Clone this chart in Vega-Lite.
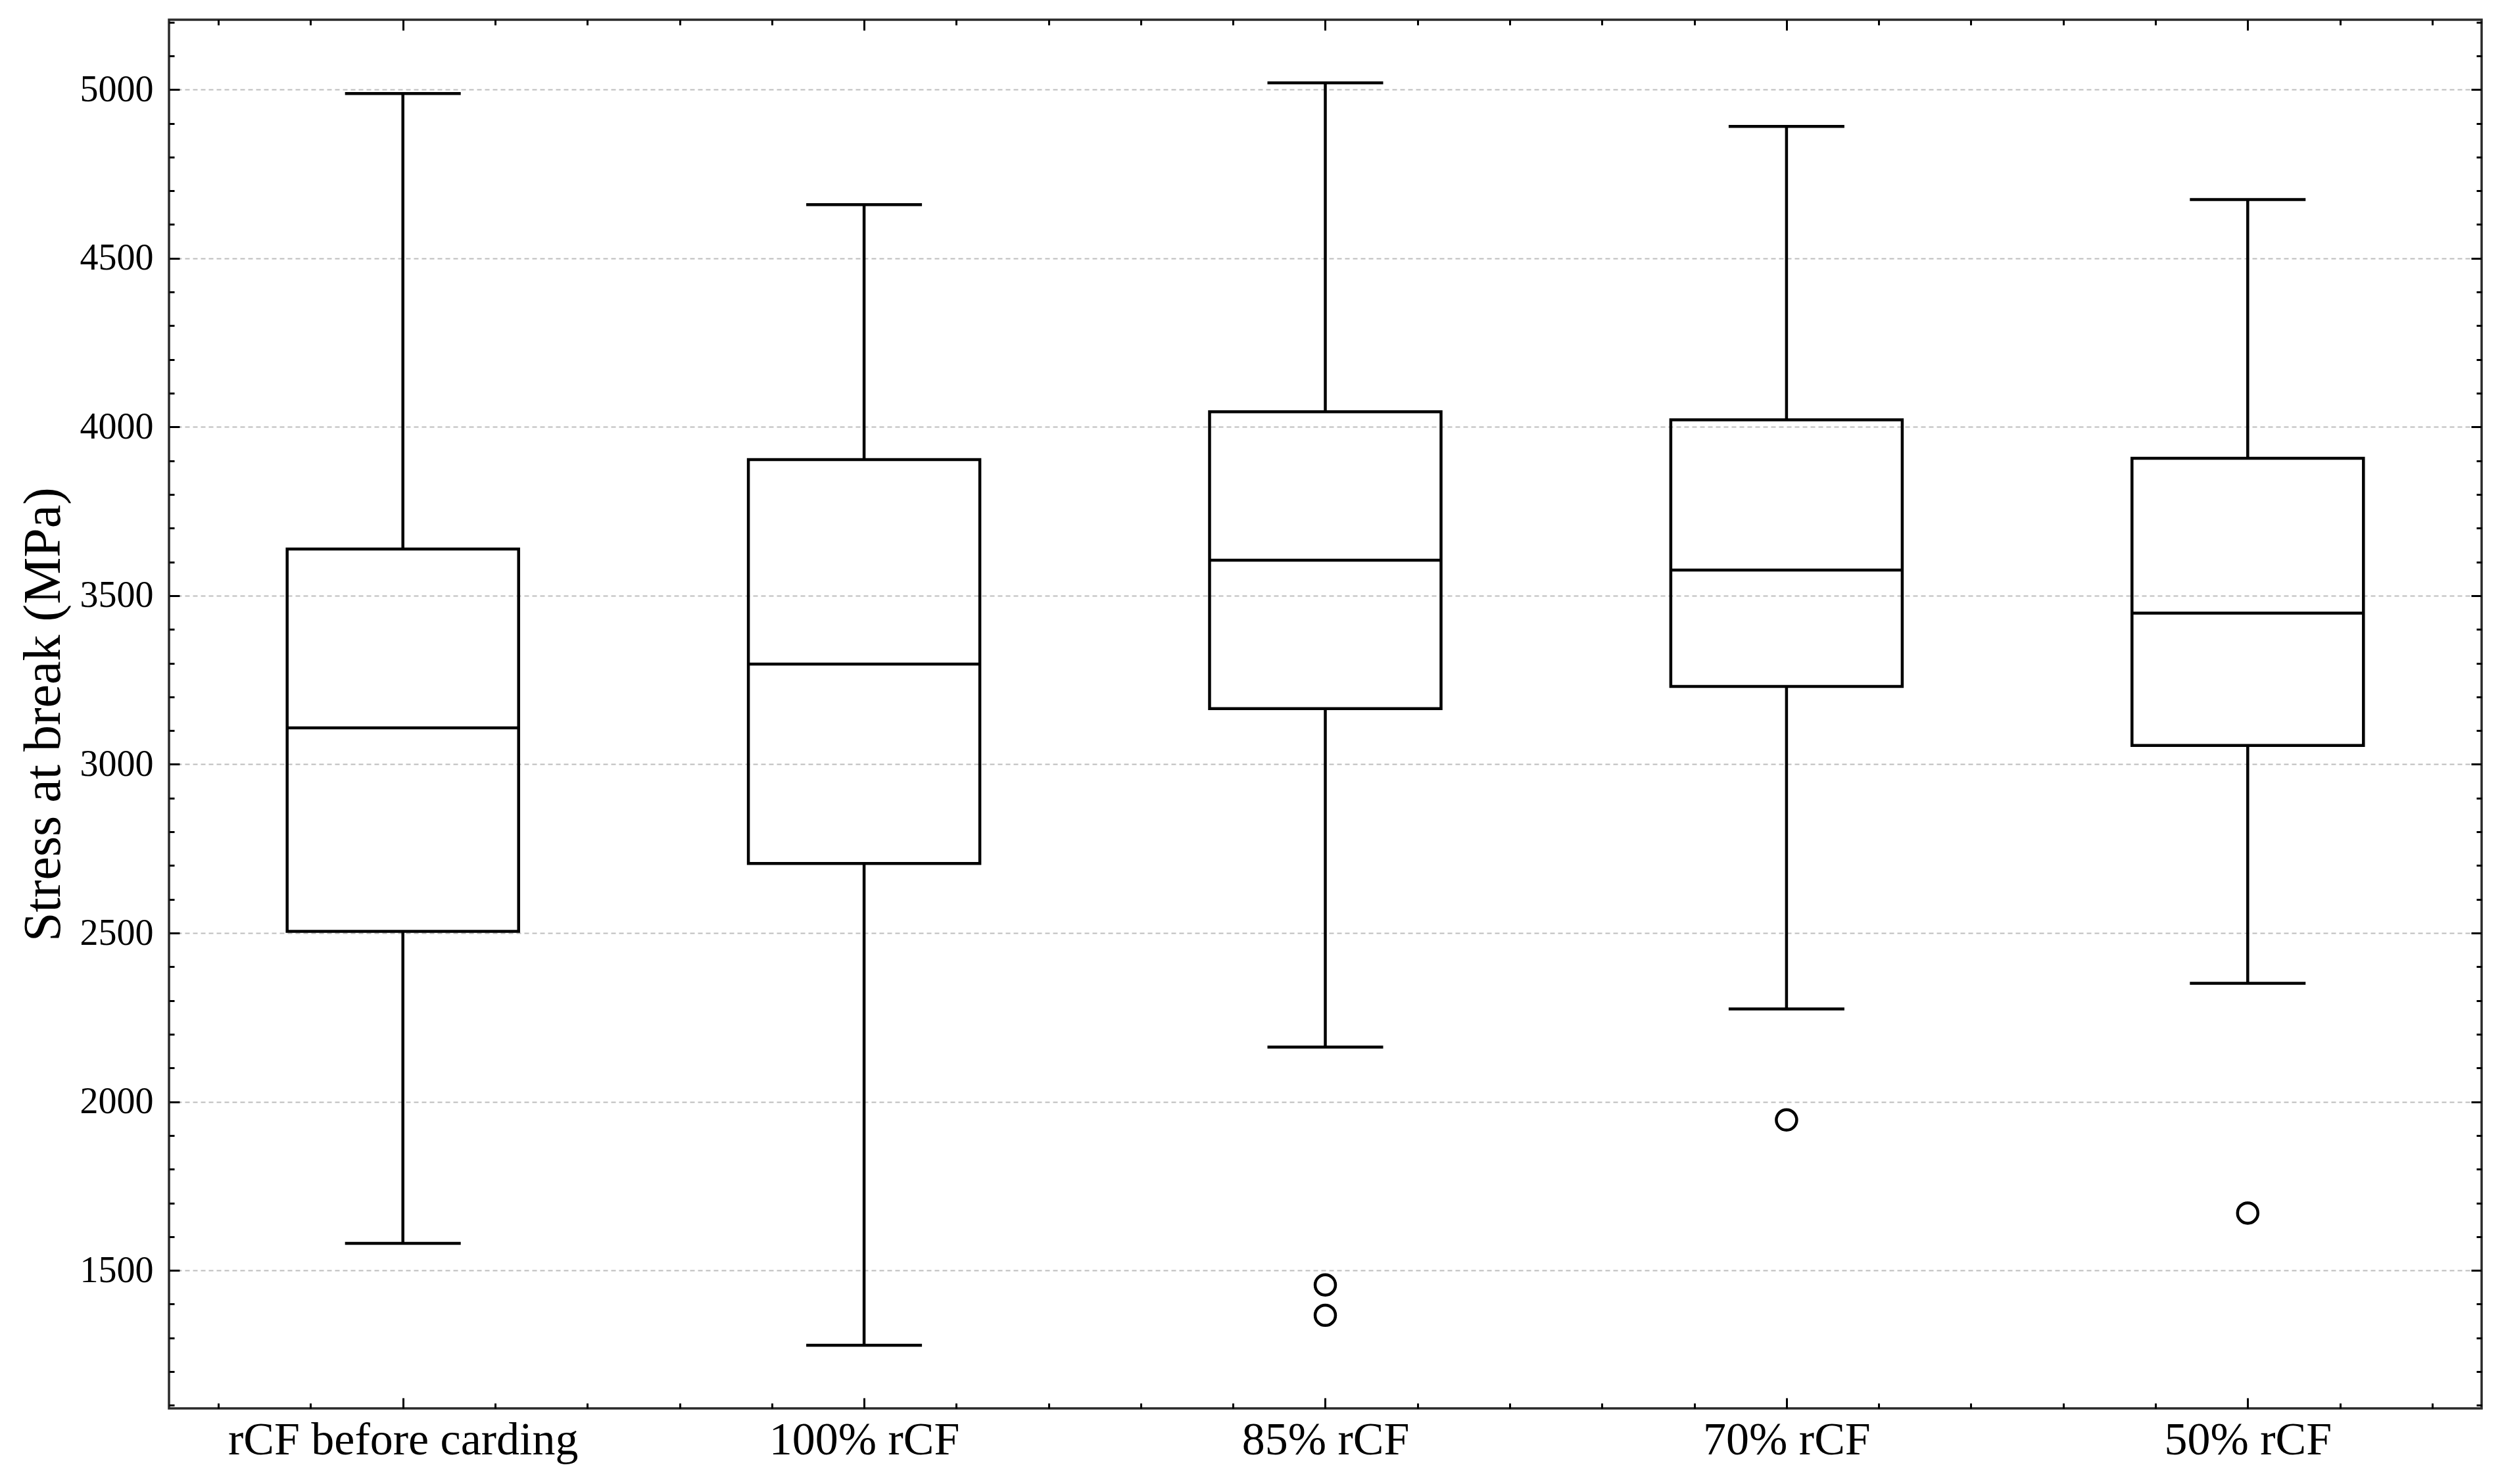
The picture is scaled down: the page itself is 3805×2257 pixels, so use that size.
{
  "$schema": "https://vega.github.io/schema/vega-lite/v6.json",
  "width": 3517,
  "height": 2112,
  "autosize": {"type": "none"},
  "padding": {"left": 257, "top": 30, "right": 31, "bottom": 115},
  "background": "white",
  "config": {
    "view": {"stroke": "#2a2a2a", "strokeWidth": 3.5},
    "axis": {"domain": false, "grid": false, "tickColor": "black", "tickWidth": 3, "labelColor": "black", "titleColor": "black", "labelFont": "Liberation Serif", "titleFont": "Liberation Serif", "titleFontWeight": "normal", "labelLimit": 0}
  },
  "datasets": {
    "stats": [
      {"group": "rCF before carding", "lower": 1580, "q1": 2505, "median": 3108, "q3": 3638, "upper": 4988},
      {"group": "100% rCF", "lower": 1278, "q1": 2706, "median": 3297, "q3": 3903, "upper": 4659},
      {"group": "85% rCF", "lower": 2162, "q1": 3165, "median": 3605, "q3": 4045, "upper": 5020},
      {"group": "70% rCF", "lower": 2275, "q1": 3231, "median": 3576, "q3": 4021, "upper": 4891},
      {"group": "50% rCF", "lower": 2351, "q1": 3056, "median": 3448, "q3": 3907, "upper": 4674}
    ],
    "outliers": [
      {"group": "85% rCF", "value": 1457},
      {"group": "85% rCF", "value": 1367},
      {"group": "70% rCF", "value": 1946},
      {"group": "50% rCF", "value": 1670}
    ]
  },
  "data": {"name": "stats"},
  "transform": [
    {"calculate": "indexof(['rCF before carding','100% rCF','85% rCF','70% rCF','50% rCF'], datum.group) + 1", "as": "pos"}
  ],
  "resolve": {"axis": {"x": "independent", "y": "independent"}},
  "layer": [
    {
      "mark": {"type": "rule", "color": "black", "strokeWidth": 4.5},
      "encoding": {
        "x": {"field": "pos", "type": "quantitative", "scale": {"domain": [0.5, 5.5], "nice": false, "zero": false},
              "axis": {"orient": "bottom", "values": [1, 2, 3, 4, 5], "ticks": false, "labelPadding": 14, "labelFontSize": 70, "labelLimit": 0, "labelExpr": "['rCF before carding','100% rCF','85% rCF','70% rCF','50% rCF'][datum.value - 1]", "title": null}},
        "y": {"field": "lower", "type": "quantitative", "scale": {"domain": [1091, 5207], "nice": false, "zero": false},
              "axis": {"orient": "left", "values": [1500, 2000, 2500, 3000, 3500, 4000, 4500, 5000], "format": "d", "ticks": false, "labelPadding": 24, "labelFontSize": 56, "grid": true, "gridColor": "#bdbdbd", "gridWidth": 2, "gridDash": [7, 5], "title": "Stress at break (MPa)", "titleFontSize": 80, "titlePadding": 14}},
        "y2": {"field": "q1"}
      }
    },
    {
      "mark": {"type": "rule", "color": "black", "strokeWidth": 4.5},
      "encoding": {
        "x": {"field": "pos", "type": "quantitative",
              "axis": {"orient": "top", "offset": -2112, "values": [1, 2, 3, 4, 5], "tickSize": 16, "labels": false, "title": null}},
        "y": {"field": "q3", "type": "quantitative",
              "axis": {"orient": "right", "offset": -3517, "values": [1500, 2000, 2500, 3000, 3500, 4000, 4500, 5000], "tickSize": 16, "labels": false, "title": null}},
        "y2": {"field": "upper"}
      }
    },
    {
      "mark": {"type": "bar", "size": 352, "fill": "transparent", "stroke": "black", "strokeWidth": 4.5},
      "encoding": {
        "x": {"field": "pos", "type": "quantitative",
              "axis": {"orient": "bottom", "offset": -2112, "values": [1, 2, 3, 4, 5], "tickSize": 16, "labels": false, "title": null}},
        "y": {"field": "q1", "type": "quantitative",
              "axis": {"orient": "left", "offset": -3517, "values": [1500, 2000, 2500, 3000, 3500, 4000, 4500, 5000], "tickSize": 16, "labels": false, "title": null}},
        "y2": {"field": "q3"}
      }
    },
    {
      "mark": {"type": "tick", "orient": "horizontal", "size": 352, "thickness": 4.5, "color": "black", "opacity": 1},
      "encoding": {
        "x": {"field": "pos", "type": "quantitative",
              "axis": {"orient": "top", "offset": -2112, "values": [0.6, 0.8, 1.2, 1.4, 1.6, 1.8, 2.2, 2.4, 2.6, 2.8, 3.2, 3.4, 3.6, 3.8, 4.2, 4.4, 4.6, 4.8, 5.2, 5.4], "tickSize": 8, "labels": false, "title": null}},
        "y": {"field": "median", "type": "quantitative",
              "axis": {"orient": "right", "offset": -3517, "values": [1100, 1200, 1300, 1400, 1600, 1700, 1800, 1900, 2100, 2200, 2300, 2400, 2600, 2700, 2800, 2900, 3100, 3200, 3300, 3400, 3600, 3700, 3800, 3900, 4100, 4200, 4300, 4400, 4600, 4700, 4800, 4900, 5100, 5200], "tickSize": 8, "labels": false, "title": null}}
      }
    },
    {
      "mark": {"type": "tick", "orient": "horizontal", "size": 176, "thickness": 4.5, "color": "black", "opacity": 1},
      "encoding": {
        "x": {"field": "pos", "type": "quantitative",
              "axis": {"orient": "bottom", "offset": -2112, "values": [0.6, 0.8, 1.2, 1.4, 1.6, 1.8, 2.2, 2.4, 2.6, 2.8, 3.2, 3.4, 3.6, 3.8, 4.2, 4.4, 4.6, 4.8, 5.2, 5.4], "tickSize": 8, "labels": false, "title": null}},
        "y": {"field": "upper", "type": "quantitative",
              "axis": {"orient": "left", "offset": -3517, "values": [1100, 1200, 1300, 1400, 1600, 1700, 1800, 1900, 2100, 2200, 2300, 2400, 2600, 2700, 2800, 2900, 3100, 3200, 3300, 3400, 3600, 3700, 3800, 3900, 4100, 4200, 4300, 4400, 4600, 4700, 4800, 4900, 5100, 5200], "tickSize": 8, "labels": false, "title": null}}
      }
    },
    {
      "mark": {"type": "tick", "orient": "horizontal", "size": 176, "thickness": 4.5, "color": "black", "opacity": 1},
      "encoding": {
        "x": {"field": "pos", "type": "quantitative", "axis": null},
        "y": {"field": "lower", "type": "quantitative", "axis": null}
      }
    },
    {
      "data": {"name": "outliers"},
      "transform": [
        {"calculate": "indexof(['rCF before carding','100% rCF','85% rCF','70% rCF','50% rCF'], datum.group) + 1", "as": "pos"}
      ],
      "mark": {"type": "point", "shape": "circle", "filled": false, "size": 960, "stroke": "black", "strokeWidth": 4.5, "opacity": 1},
      "encoding": {
        "x": {"field": "pos", "type": "quantitative", "axis": null},
        "y": {"field": "value", "type": "quantitative", "axis": null}
      }
    }
  ]
}
